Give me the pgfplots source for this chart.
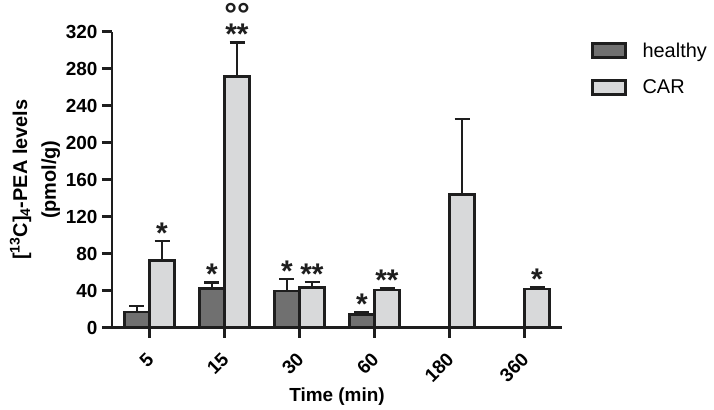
\documentclass[border=0pt]{standalone}
\usepackage{pgfplots}
\pgfplotsset{compat=1.18}
\usepackage{fontspec}
\setmainfont{Liberation Sans}
\definecolor{healthycol}{RGB}{112,112,112}
\definecolor{carcol}{RGB}{216,217,218}
\definecolor{linecol}{RGB}{30,30,30}
\begin{document}
\begin{tikzpicture}
\path[use as bounding box] (-112bp,-82.3bp) rectangle (602bp,327.7bp);
\begin{axis}[
  at={(0,0)}, anchor=south west,
  scale only axis, width=450bp, height=296bp,
  xmin=-0.5, xmax=5.5, ymin=0, ymax=320,
  axis lines*=left,
  axis line style={line width=2.6bp, linecol},
  every tick/.style={line width=2.6bp, linecol},
  major tick length=10bp,
  tick align=outside,
  xtick={0,1,2,3,4,5},
  xticklabels={5,15,30,60,180,360},
  ytick={0,40,...,320},
  /pgf/number format/assume math mode=true,
  tick label style={font=\bfseries\fontsize{19}{22}\selectfont},
  xticklabel style={yshift=-9bp, xshift=-4bp, rotate=45, anchor=north east},
  yticklabel style={xshift=-1bp},
  xlabel={Time (min)},
  xlabel style={font=\bfseries\fontsize{19}{22}\selectfont, at={(axis description cs:0.5,0)}, anchor=base, yshift=-74bp},
  ylabel={[\textsuperscript{13}C]\textsubscript{4}-PEA levels\\(pmol/g)},
  ylabel style={font=\bfseries\fontsize{20}{29}\selectfont, align=center, at={(axis description cs:-0.171,0.5)}, anchor=center},
  clip=false,
  legend style={draw=none, fill=none, at={(1.064,0.97)}, anchor=north west, inner sep=0pt,
    font=\fontsize{20}{24}\selectfont, row sep=17bp},
  legend cell align=left,
  error bars/error bar style={line width=2.6bp, linecol},
  error bars/error mark options={rotate=90, mark size=7.5bp, line width=2.6bp, linecol},
]
\addplot[ybar, bar width=25bp, bar shift=0pt, fill=healthycol, draw=linecol, line width=2.6bp,
  legend image code/.code={\draw[fill=healthycol, draw=linecol, line width=2.6bp] (0bp,-7bp) rectangle (33bp,7bp);},
  error bars/.cd, y dir=plus, y explicit]
  coordinates {(-0.1667,17) +- (0,6.5) (0.8333,42.6) +- (0,6.0) (1.8333,39.7) +- (0,12.9) (2.8333,14.5) +- (0,1.7)};
\addlegendentry{\hspace{14bp}healthy}
\addplot[ybar, bar width=25bp, bar shift=0pt, fill=carcol, draw=linecol, line width=2.6bp,
  legend image code/.code={\draw[fill=carcol, draw=linecol, line width=2.6bp] (0bp,-7bp) rectangle (33bp,7bp);},
  error bars/.cd, y dir=plus, y explicit]
  coordinates {(0.1667,72.4) +- (0,21.3) (1.1667,271.4) +- (0,37.1) (2.1667,43.2) +- (0,6.2) (3.1667,40.8) +- (0,1.8) (4.1667,144.2) +- (0,81.4) (5.1667,41.8) +- (0,2.2)};
\addlegendentry{\hspace{14bp}CAR}
% significance marks
\addplot[forget plot, only marks, mark=none,
  nodes near coords, point meta=explicit symbolic,
  every node near coord/.style={anchor=base, yshift=-2bp, inner sep=0pt, font=\bfseries\fontsize{30}{30}\selectfont, text=linecol}]
  coordinates {(0.8333,48.6) [*] (1.8333,52.6) [*] (2.8333,16.2) [*]
               (0.1667,93.7) [*] (1.1667,308.5) [**] (2.1667,49.4) [**] (3.1667,42.6) [**] (5.1667,44) [*]};
\addplot[forget plot, only marks, mark=none,
  nodes near coords, point meta=explicit symbolic,
  every node near coord/.style={anchor=base, yshift=17bp, inner sep=0pt, font=\bfseries\fontsize{32}{32}\selectfont, text=linecol}]
  coordinates {(1.1667,308.5) [°°]};
\end{axis}
\end{tikzpicture}
\end{document}
